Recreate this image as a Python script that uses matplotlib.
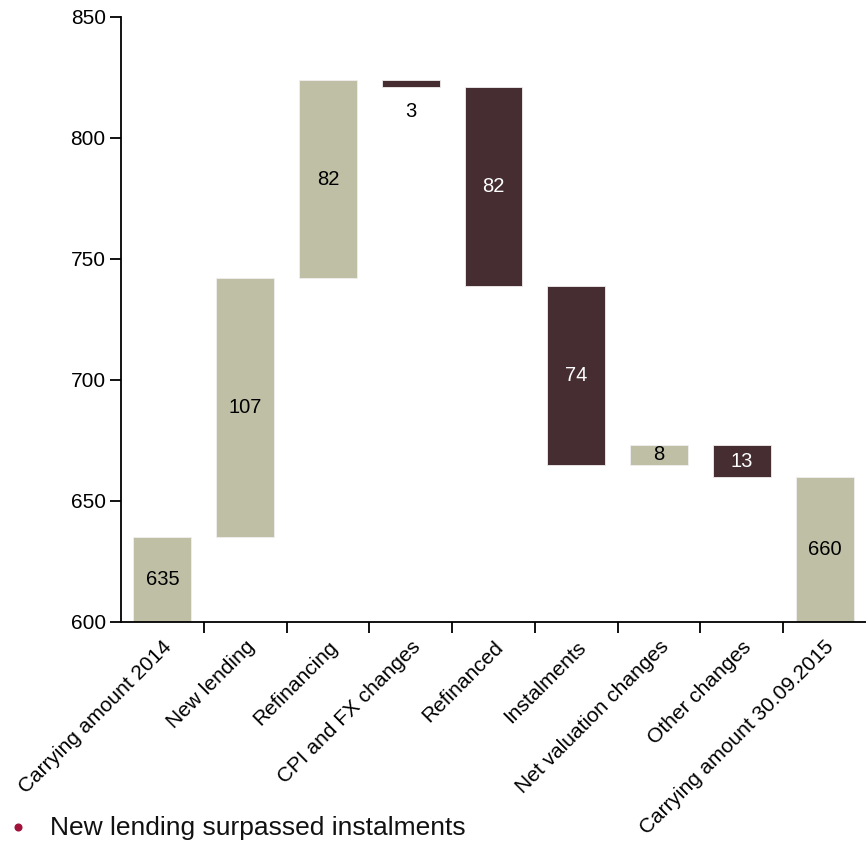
import matplotlib
matplotlib.use("Agg")
import matplotlib.pyplot as plt
from matplotlib.lines import Line2D
from matplotlib.ticker import FixedLocator

plt.rcParams['font.family'] = ['Liberation Sans', 'DejaVu Sans']

categories = ["Carrying amount 2014", "New lending", "Refinancing", "CPI and FX changes",
              "Refinanced", "Instalments", "Net valuation changes", "Other changes",
              "Carrying amount 30.09.2015"]
changes = [635, 107, 82, -3, -82, -74, 8, -13, 660]
is_total = [True, False, False, False, False, False, False, False, True]

POS = "#BFBFA5"
NEG = "#452D32"

fig = plt.figure(figsize=(8.66, 8.43), dpi=100)
ax = fig.add_axes([0.1397, 0.2622, 0.8603, 0.7178])

running = 0
for i, (v, tot) in enumerate(zip(changes, is_total)):
    if tot:
        bottom, height = 0, v
        running = v
        color = POS
    else:
        if v >= 0:
            bottom, height = running, v
            color = POS
        else:
            bottom, height = running + v, -v
            color = NEG
        running += v
    ax.bar(i, height, bottom=bottom, width=0.7, color=color, edgecolor="#F2EFEF", linewidth=0.6)
    txt_color = "white" if color == NEG else "black"
    label = str(abs(v))
    if height < 5 and color == NEG:
        ax.text(i, bottom - 10, label, ha="center", va="center", fontsize=14.5, color="black")
    else:
        lo = max(bottom, 600)
        ax.text(i, (lo + bottom + height) / 2, label, ha="center", va="center",
                fontsize=14.5, color=txt_color)

ax.set_ylim(600, 850)
ax.set_xlim(-0.5, 8.5)
ax.set_yticks([600, 650, 700, 750, 800, 850])
ax.tick_params(axis="y", labelsize=15, length=8, width=1.3, direction="out", pad=3)
ax.set_xticks(range(len(categories)))
ax.set_xticklabels(categories, rotation=45, ha="right", rotation_mode="anchor", fontsize=15)
ax.tick_params(axis="x", which="major", length=0, pad=11)
ax.xaxis.set_minor_locator(FixedLocator([0.5 + k for k in range(8)]))
ax.tick_params(axis="x", which="minor", length=8, width=1.3, direction="out")

for s in ["top", "right"]:
    ax.spines[s].set_visible(False)
for s in ["left", "bottom"]:
    ax.spines[s].set_linewidth(1.3)

# bullet point caption below the chart
fig.add_artist(Line2D([18 / 866], [1 - 827 / 843], marker="o", markersize=4.8,
                      color="#A0123A", linestyle="none", transform=fig.transFigure))
fig.text(0.058, 1 - 828 / 843, "New lending surpassed instalments", fontsize=19,
         color="#111111", va="center")

fig.savefig("out.png", dpi=100)
